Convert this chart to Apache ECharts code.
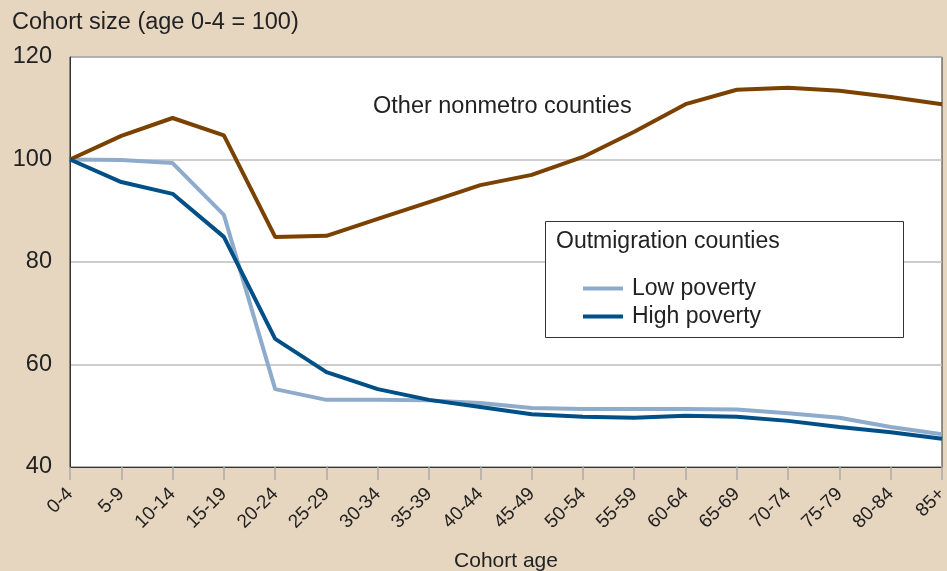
<!DOCTYPE html>
<html>
<head>
<meta charset="utf-8">
<script src="https://cdn.jsdelivr.net/npm/echarts@6/dist/echarts.min.js"></script>
<style>
    html, body { margin: 0; padding: 0; background: #e6d5bf; }
    #chart { width: 947px; height: 571px; }
</style>
</head>
<body>
<div id="chart"></div>
<script>
    // cohort age groups
    var ages = ['0-4','5-9','10-14','15-19','20-24','25-29','30-34','35-39','40-44','45-49',
                '50-54','55-59','60-64','65-69','70-74','75-79','80-84','85+'];
    var otherNonmetro = [100, 104.6, 108.1, 104.7, 84.9, 85.1, 88.4, 91.7, 95.0, 97.0,
                         100.5, 105.4, 110.8, 113.6, 114.0, 113.4, 112.2, 110.8];
    var lowPoverty = [100, 99.9, 99.3, 89.2, 55.2, 53.1, 53.1, 53.0, 52.5, 51.5,
                      51.3, 51.3, 51.3, 51.2, 50.5, 49.6, 47.8, 46.4];
    var highPoverty = [100, 95.6, 93.3, 84.9, 65.0, 58.5, 55.2, 53.1, 51.7, 50.3,
                       49.8, 49.6, 50.0, 49.8, 49.0, 47.8, 46.8, 45.5];

    var font = 'Liberation Sans, Arial, sans-serif';
    var myChart = echarts.init(document.getElementById('chart'));
    myChart.setOption({
        backgroundColor: '#e6d5bf',
        animation: false,
        textStyle: { fontFamily: font },
        grid: {
            left: 70, right: 5, top: 57, bottom: 104,
            outerBoundsMode: 'none',
            show: true,
            backgroundColor: '#fff',
            borderColor: '#333',
            borderWidth: 1
        },
        legend: {
            left: 578, top: 272, z: 20,
            orient: 'vertical',
            itemWidth: 40, itemHeight: 4, itemGap: 5,
            icon: 'rect',
            textStyle: { fontFamily: font, fontSize: 23, color: '#222', padding: [0, 0, 0, 4] },
            data: ['Low poverty', 'High poverty']
        },
        graphic: [
            {
                type: 'rect', left: 545, top: 221, z: 5,
                shape: { width: 358, height: 116 },
                style: { fill: '#fff', stroke: '#333', lineWidth: 1 }
            },
            {
                type: 'text', left: 556, top: 230, z: 6,
                style: { text: 'Outmigration counties', font: '23px ' + font, fill: '#222' }
            },
            {
                type: 'text', left: 373, top: 95, z: 6,
                style: { text: 'Other nonmetro counties', font: '23.5px ' + font, fill: '#222' }
            },
            {
                type: 'text', left: 12, top: 11,
                style: { text: 'Cohort size (age 0-4 = 100)', font: '23.5px ' + font, fill: '#222' }
            }
        ],
        xAxis: {
            type: 'category',
            boundaryGap: false,
            data: ages,
            name: 'Cohort age',
            nameLocation: 'middle',
            nameGap: 84,
            nameTextStyle: { fontSize: 21, color: '#222', fontFamily: font },
            axisLine: { lineStyle: { color: '#333' } },
            axisTick: { show: true, length: 13, lineStyle: { color: '#aaa', width: 1.5 } },
            axisLabel: { rotate: 45, fontSize: 19, color: '#222', margin: 24, interval: 0 },
            splitLine: { show: false }
        },
        yAxis: {
            type: 'value',
            min: 40, max: 120, interval: 20,
            axisLine: { show: true, lineStyle: { color: '#333' } },
            axisTick: { show: false },
            axisLabel: { fontSize: 23.5, color: '#222', margin: 18 },
            splitLine: { lineStyle: { color: '#bdbdbd', width: 1.5 } }
        },
        series: [
            {
                name: 'Other nonmetro counties', type: 'line', data: otherNonmetro,
                showSymbol: false, color: '#7a4100', lineStyle: { width: 4 }, z: 3
            },
            {
                name: 'Low poverty', type: 'line', data: lowPoverty,
                showSymbol: false, color: '#8fabcc', lineStyle: { width: 4 }, z: 2
            },
            {
                name: 'High poverty', type: 'line', data: highPoverty,
                showSymbol: false, color: '#004f86', lineStyle: { width: 4 }, z: 3
            }
        ]
    });
</script>
</body>
</html>
